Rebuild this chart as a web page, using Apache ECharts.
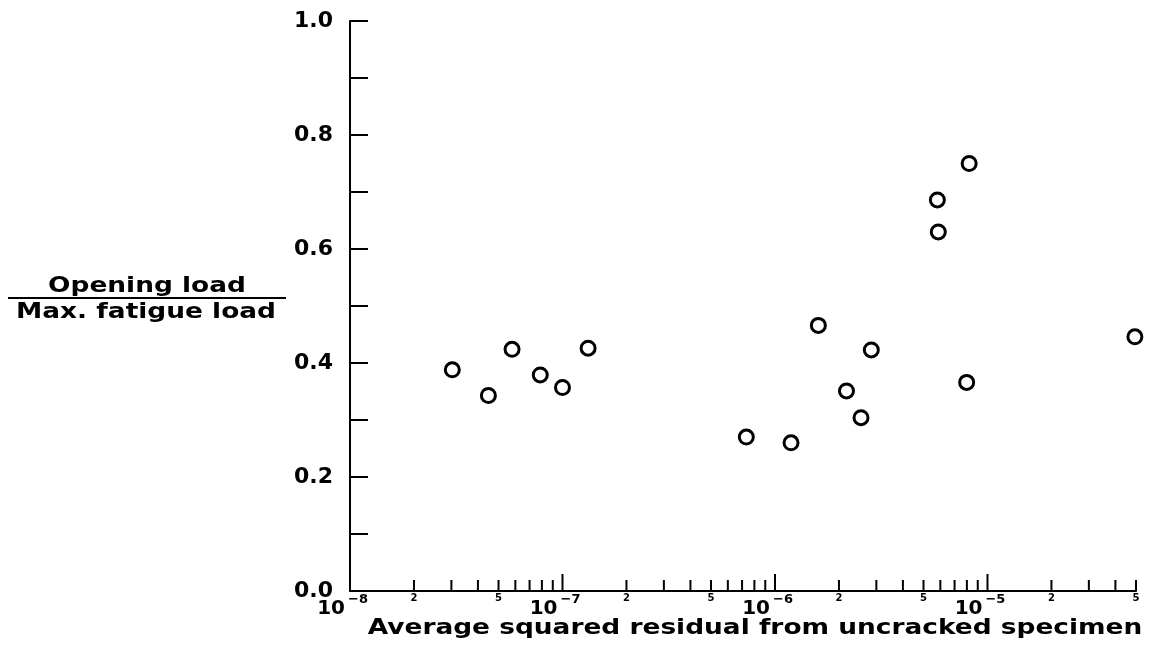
<!DOCTYPE html>
<html>
<head>
<meta charset="utf-8">
<script src="https://cdn.jsdelivr.net/npm/echarts@6/dist/echarts.min.js"></script>
<style>
html,body{margin:0;padding:0;background:#fff;}
#chart{width:1153px;height:666px;}
</style>
</head>
<body>
<div id="chart"></div>
<script>
// Data: average squared residual (x, log scale) vs opening load / max fatigue load (y)
const residuals = [3.03e-8, 4.48e-8, 5.79e-8, 7.86e-8, 1.0e-7, 1.32e-7,
  7.33e-7, 1.19e-6, 1.6e-6, 2.17e-6, 2.54e-6, 2.84e-6,
  5.81e-6, 5.87e-6, 7.98e-6, 8.2e-6, 4.94e-5];
const loadRatios = [0.388, 0.343, 0.424, 0.379, 0.357, 0.426,
  0.270, 0.260, 0.466, 0.351, 0.304, 0.423,
  0.686, 0.630, 0.366, 0.750, 0.446];

// Axis ticks and labels
const xMinorTicks = [2e-8, 3e-8, 4e-8, 5e-8, 6e-8, 7e-8, 8e-8, 9e-8,
  2e-7, 3e-7, 4e-7, 5e-7, 6e-7, 7e-7, 8e-7, 9e-7,
  2e-6, 3e-6, 4e-6, 5e-6, 6e-6, 7e-6, 8e-6, 9e-6,
  2e-5, 3e-5, 4e-5, 5e-5];
const xDecadeTicks = [1e-8, 1e-7, 1e-6, 1e-5];
const xDecadeExponents = ['−8', '−7', '−6', '−5'];
const xSmallLabelValues = [2e-8, 5e-8, 2e-7, 5e-7, 2e-6, 5e-6, 2e-5, 5e-5];
const xSmallLabels = ['2', '5', '2', '5', '2', '5', '2', '5'];
const yMin = 0, yMax = 1.0, yInterval = 0.2;
const xTitle = 'Average squared residual from uncracked specimen';
const yTitleTop = 'Opening load';
const yTitleBottom = 'Max. fatigue load';

const FONT = '"DejaVu Sans", sans-serif';
const chart = echarts.init(document.getElementById('chart'));

const points = residuals.map((x, i) => [x, loadRatios[i]]);

chart.setOption({
  animation: false,
  backgroundColor: '#fff',
  grid: { left: 350, right: 17, top: 21, bottom: 75 },
  xAxis: {
    type: 'log', logBase: 10, min: 1e-8, max: 5e-5,
    axisLine: { show: true, lineStyle: { color: '#000', width: 2 } },
    axisTick: { show: false },
    axisLabel: { show: false },
    splitLine: { show: false },
    minorTick: { show: false }
  },
  yAxis: {
    type: 'value', min: yMin, max: yMax, interval: yInterval,
    axisLine: { show: true, lineStyle: { color: '#000', width: 2 } },
    axisTick: { show: true, inside: true, length: 18, lineStyle: { color: '#000', width: 2 } },
    minorTick: { show: true, splitNumber: 2, length: 18, lineStyle: { color: '#000', width: 2 } },
    axisLabel: {
      margin: 17, color: '#000', fontFamily: FONT, fontWeight: 'bold', fontSize: 22,
      formatter: v => v.toFixed(1)
    },
    splitLine: { show: false }
  },
  graphic: [
    { type: 'text', x: 147, y: 286, scaleX: 1.2,
      style: { text: yTitleTop, x: 0, y: 0, align: 'center', verticalAlign: 'middle',
        font: 'bold 22px ' + FONT, fill: '#000' } },
    { type: 'line', shape: { x1: 8, y1: 298, x2: 286, y2: 298 },
      style: { stroke: '#000', lineWidth: 2 } },
    { type: 'text', x: 146, y: 312, scaleX: 1.2,
      style: { text: yTitleBottom, x: 0, y: 0, align: 'center', verticalAlign: 'middle',
        font: 'bold 22px ' + FONT, fill: '#000' } },
    { type: 'text', x: 755, y: 628, scaleX: 1.2,
      style: { text: xTitle, x: 0, y: 0, align: 'center', verticalAlign: 'middle',
        font: 'bold 22px ' + FONT, fill: '#000' } }
  ],
  series: [
    {
      type: 'scatter',
      data: points,
      symbol: 'circle',
      symbolSize: 14,
      itemStyle: { color: '#fff', borderColor: '#000', borderWidth: 3, opacity: 1 },
      z: 5
    },
    {
      type: 'custom', clip: false, silent: true,
      data: xMinorTicks.map(v => [v, 0]),
      renderItem: (params, api) => {
        const p = api.coord([api.value(0), 0]);
        return { type: 'line', shape: { x1: p[0], y1: p[1], x2: p[0], y2: p[1] - 11 },
          style: { stroke: '#000', lineWidth: 2 } };
      }
    },
    {
      type: 'custom', clip: false, silent: true,
      data: xDecadeTicks.map(v => [v, 0]),
      renderItem: (params, api) => {
        const p = api.coord([api.value(0), 0]);
        return { type: 'group', children: [
          { type: 'line', shape: { x1: p[0], y1: p[1], x2: p[0], y2: p[1] - 17 },
            style: { stroke: '#000', lineWidth: 2 } },
          { type: 'text', style: { text: '10', x: p[0] - 5, y: p[1] + 18,
              align: 'right', verticalAlign: 'middle', font: 'bold 20px ' + FONT, fill: '#000' } },
          { type: 'text', style: { text: xDecadeExponents[params.dataIndex], x: p[0] - 2, y: p[1] + 9,
              align: 'left', verticalAlign: 'middle', font: 'bold 13px ' + FONT, fill: '#000' } }
        ] };
      }
    },
    {
      type: 'custom', clip: false, silent: true,
      data: xSmallLabelValues.map(v => [v, 0]),
      renderItem: (params, api) => {
        const p = api.coord([api.value(0), 0]);
        return { type: 'text', style: { text: xSmallLabels[params.dataIndex], x: p[0], y: p[1] + 7,
          align: 'center', verticalAlign: 'middle', font: 'bold 10px ' + FONT, fill: '#000' } };
      }
    }
  ]
});
</script>
</body>
</html>
